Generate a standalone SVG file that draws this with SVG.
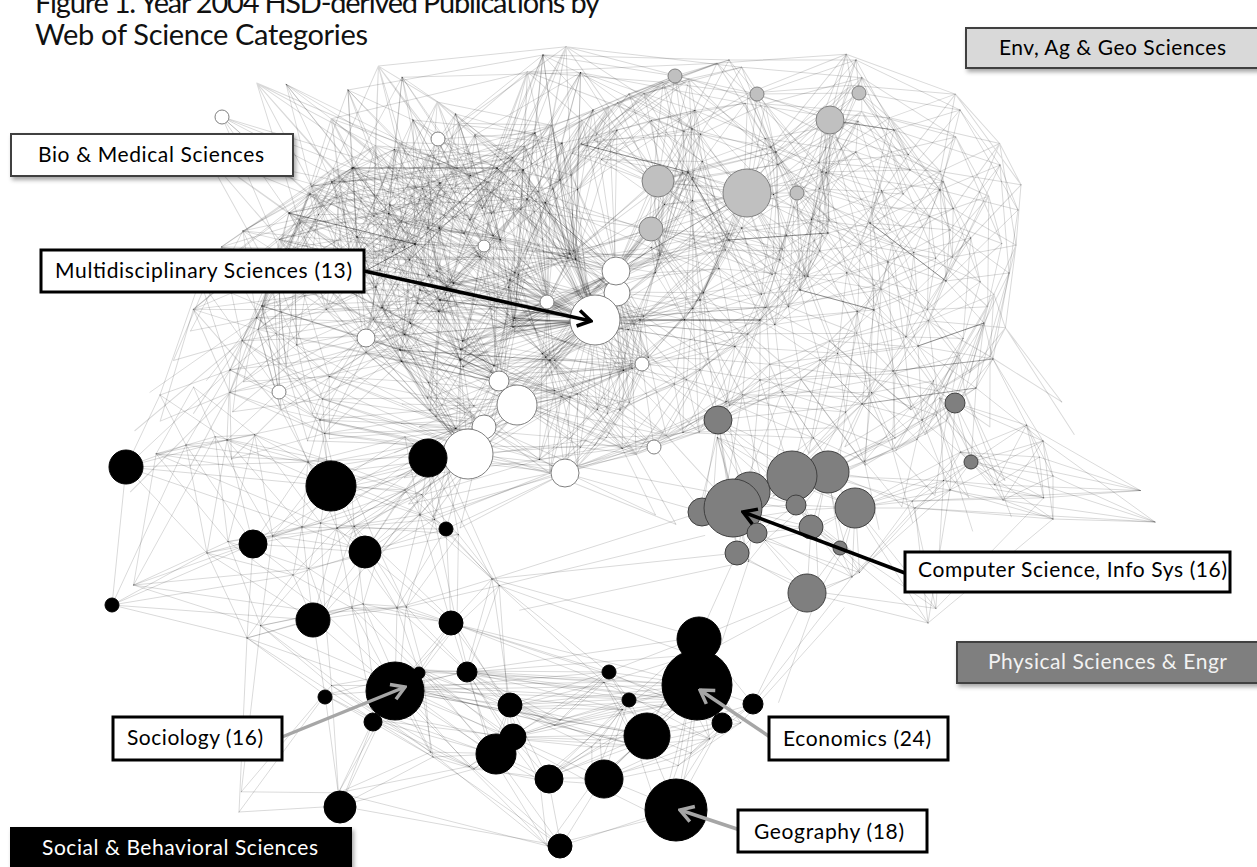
<svg xmlns="http://www.w3.org/2000/svg" width="1257" height="867" viewBox="0 0 1257 867">
<defs>
<style>
.l{fill:none;stroke:#000;stroke-opacity:.15;stroke-width:1;stroke-linecap:round}
.m{fill:none;stroke:#000;stroke-opacity:.35;stroke-width:1}
.w{fill:#fff;stroke:#808080;stroke-width:1}
.g{fill:#c0c0c0;stroke:#808080;stroke-width:1}
.p{fill:#7f7f7f;stroke:#404040;stroke-width:1}
.k{fill:#000;stroke:#000;stroke-width:1}
.t{font-family:Lato,"Open Sans","Liberation Sans",sans-serif;font-size:21px;fill:#000}
.cat{stroke:#404040;stroke-width:2}
.call{fill:#fff;stroke:#000;stroke-width:3}
.ab{fill:none;stroke:#000;stroke-width:3.5}
.ag{fill:none;stroke:#a6a6a6;stroke-width:3.5}
</style>
<filter id="sh" x="-10%" y="-30%" width="125%" height="170%">
<feDropShadow dx="2" dy="3" stdDeviation="2" flood-color="#000" flood-opacity=".35"/>
</filter>
<marker id="hb" viewBox="-16 -10 18 20" refX="0" refY="0" markerWidth="18" markerHeight="20" markerUnits="userSpaceOnUse" orient="auto">
<path d="M-13 -8L0 0L-13 8" fill="none" stroke="#000" stroke-width="3.5"/>
</marker>
<marker id="hg" viewBox="-16 -10 18 20" refX="0" refY="0" markerWidth="18" markerHeight="20" markerUnits="userSpaceOnUse" orient="auto">
<path d="M-13 -8L0 0L-13 8" fill="none" stroke="#a6a6a6" stroke-width="3.5"/>
</marker>
</defs>
<rect width="1257" height="867" fill="#fff"/>

<!-- title -->
<g id="title" font-family="Lato,'Open Sans','Liberation Sans',sans-serif" font-size="29" fill="#111">
<text x="35" y="13" textLength="565">Figure 1. Year 2004 HSD-derived Publications by</text>
<text x="35" y="45" textLength="333">Web of Science Categories</text>
</g>

<!-- network links: base layer plus rotated re-draws to build up the dense web -->
<g id="links">
<g id="lk-top">
<path class="l" d="M222 117L352 168M222 117L310 194M222 117L289 213M222 117L440 183M222 117L357 237M222 117L280 250M222 117L390 205"/>
<path class="l" d="M348 90L413 120M348 90L352 168M348 90L440 183M348 90L310 194M348 90L390 205M348 90L357 237M348 90L415 244M348 90L470 220M348 90L543 55"/>
<path class="l" d="M413 120L438 139M413 120L440 183M413 120L497 168M413 120L390 205M413 120L415 244M413 120L484 246M413 120L470 220M413 120L357 237M413 120L535 133"/>
<path class="l" d="M438 139L543 55M438 139L535 133M438 139L497 168M438 139L527 199M438 139L415 244M438 139L470 220M438 139L484 246M438 139L440 183M438 139L380 270"/>
<path class="l" d="M543 55L535 133M543 55L593 110M543 55L497 168M543 55L527 199M543 55L470 220M543 55L484 246M543 55L560 180M543 55L675 76M543 55L729 60M543 55L692 129M543 55L570 254"/>
<path class="l" d="M535 133L593 110M535 133L440 183M535 133L497 168M535 133L527 199M535 133L415 244M535 133L570 254M535 133L547 302M535 133L470 220M535 133L560 180M535 133L289 213"/>
<path class="l" d="M593 110L497 168M593 110L527 199M593 110L570 254M593 110L560 180M593 110L616 271M593 110L629 94M593 110L581 144M593 110L658 181M593 110L675 76M593 110L510 280"/>
<path class="l" d="M352 168L440 183M352 168L310 194M352 168L289 213M352 168L357 237M352 168L415 244M352 168L484 246M352 168L330 290M352 168L380 270M352 168L280 250M352 168L497 168"/>
<path class="l" d="M440 183L497 168M440 183L289 213M440 183L527 199M440 183L357 237M440 183L415 244M440 183L484 246M440 183L570 254M440 183L330 290M440 183L440 300M440 183L380 270M440 183L420 290"/>
<path class="l" d="M497 168L527 199M497 168L415 244M497 168L484 246M497 168L570 254M497 168L547 302M497 168L440 300M497 168L470 220M497 168L560 180M497 168L510 280M497 168L289 213"/>
<path class="l" d="M310 194L289 213M310 194L390 205M310 194L357 237M310 194L415 244M310 194L262 306M310 194L330 290M310 194L200 280M310 194L280 250M310 194L484 246M310 194L440 300"/>
<path class="l" d="M289 213L357 237M289 213L415 244M289 213L262 306M289 213L366 338M289 213L330 290M289 213L200 280M289 213L280 250M289 213L380 270M289 213L400 350"/>
<path class="l" d="M390 205L527 199M390 205L357 237M390 205L415 244M390 205L484 246M390 205L440 300M390 205L380 270M390 205L420 290M390 205L470 220"/>
<path class="l" d="M527 199L484 246M527 199L513 327M527 199L570 254M527 199L616 271M527 199L595 320M527 199L547 302M527 199L440 300M527 199L470 220M527 199L560 180M527 199L510 280M527 199L651 229"/>
<path class="l" d="M357 237L415 244M357 237L262 306M357 237L366 338M357 237L330 290M357 237L440 300M357 237L400 350M357 237L420 290M357 237L380 270M357 237L280 250M357 237L484 246"/>
<path class="l" d="M415 244L484 246M415 244L513 327M415 244L570 254M415 244L366 338M415 244L330 290M415 244L440 300M415 244L400 350M415 244L460 360M415 244L420 290M415 244L380 270M415 244L510 280"/>
<path class="l" d="M484 246L513 327M484 246L570 254M484 246L616 271M484 246L595 320M484 246L547 302M484 246L440 300M484 246L460 360M484 246L420 290M484 246L470 220M484 246L510 280M484 246L499 381"/>
<path class="l" d="M262 306L366 338M262 306L279 392M262 306L330 290M262 306L400 350M262 306L230 370M262 306L200 280M262 306L320 420M262 306L280 250M262 306L380 270M262 306L440 300M262 306L499 381"/>
<path class="l" d="M513 327L590 294M513 327L616 271M513 327L595 320M513 327L547 302M513 327L642 364M513 327L499 381M513 327L440 300M513 327L460 360M513 327L550 360M513 327L420 290M513 327L510 280M513 327L640 320"/>
<path class="l" d="M590 294L570 254M590 294L616 271M590 294L642 364M590 294L550 360M590 294L510 280M590 294L640 320M590 294L660 255M590 294L651 229M590 294L560 180"/>
<path class="l" d="M570 254L616 271M570 254L617 293M570 254L595 320M570 254L547 302M570 254L440 300M570 254L560 180M570 254L510 280M570 254L660 255M570 254L658 181M570 254L651 229"/>
<path class="l" d="M616 271L595 320M616 271L547 302M616 271L642 364M616 271L560 180M616 271L640 320M616 271L660 255M616 271L658 181M616 271L651 229M616 271L688 172M616 271L729 240M616 271L460 360"/>
<path class="l" d="M617 293L595 320M617 293L642 364M617 293L550 360M617 293L640 320M617 293L700 300M617 293L620 410"/>
<path class="l" d="M595 320L547 302M595 320L642 364M595 320L499 381M595 320L460 360M595 320L550 360M595 320L620 410M595 320L640 320M595 320L440 300M595 320L420 290M595 320L513 327M595 320L700 300M595 320L517 405"/>
<path class="l" d="M595 320L535 133M595 320L497 168M595 320L415 244M595 320L357 237M595 320L366 338M595 320L400 350M595 320L747 193M595 320L760 320M595 320L565 473M595 320L468 454"/>
<path class="l" d="M547 302L642 364M547 302L440 300M547 302L460 360M547 302L550 360M547 302L420 290M547 302L510 280"/>
<path class="l" d="M366 338L279 392M366 338L499 381M366 338L484 427M366 338L330 290M366 338L400 350M366 338L460 360M366 338L230 370M366 338L320 420M366 338L420 290M366 338L380 270M366 338L430 410M366 338L440 300"/>
<path class="l" d="M279 392L400 350M279 392L230 370M279 392L200 280M279 392L320 420M279 392L280 250M279 392L262 306M279 392L227 440M279 392L308 462M279 392L468 454"/>
<path class="l" d="M642 364L499 381M642 364L517 405M642 364L654 447M642 364L550 360M642 364L620 410M642 364L570 397M642 364L595 445M642 364L640 320M642 364L700 370M642 364L700 300M642 364L760 320M642 364L718 420"/>
<path class="l" d="M499 381L517 405M499 381L484 427M499 381L440 300M499 381L400 350M499 381L460 360M499 381L550 360M499 381L570 397M499 381L420 290M499 381L430 410M499 381L510 280"/>
<path class="l" d="M517 405L484 427M517 405L468 454M517 405L400 350M517 405L550 360M517 405L570 397M517 405L595 445M517 405L430 410M517 405L654 447"/>
<path class="l" d="M484 427L468 454M484 427L565 473M484 427L400 350M484 427L570 397M484 427L320 420M484 427L430 410M484 427L428 458M484 427L405 437"/>
<path class="l" d="M468 454L565 473M468 454L570 397M468 454L595 445M468 454L320 420M468 454L430 410M468 454L331 486M468 454L428 458M468 454L308 462M468 454L405 490M468 454L405 437"/>
<path class="l" d="M468 454L366 338M468 454L400 350M468 454L460 360M468 454L499 381M468 454L446 529M468 454L365 552M468 454L420 515M468 454L337 528"/>
<path class="l" d="M565 473L654 447M565 473L570 397M565 473L595 445M565 473L620 410M565 473L718 420M565 473L702 512M565 473L428 458M565 473L446 529M565 473L550 360M565 473L420 515"/>
<path class="l" d="M654 447L620 410M654 447L570 397M654 447L595 445M654 447L700 370M654 447L718 420M654 447L760 380M654 447L702 512M654 447L550 360"/>
<path class="l" d="M330 290L440 300M330 290L400 350M330 290L230 370M330 290L200 280M330 290L420 290M330 290L380 270M330 290L280 250"/>
<path class="l" d="M440 300L400 350M440 300L460 360M440 300L420 290M440 300L380 270M440 300L510 280M440 300L430 410"/>
<path class="l" d="M400 350L460 360M400 350L230 370M400 350L320 420M400 350L420 290M400 350L380 270M400 350L430 410"/>
<path class="l" d="M460 360L550 360M460 360L570 397M460 360L420 290M460 360L510 280M460 360L430 410"/>
<path class="l" d="M550 360L620 410M550 360L570 397M550 360L510 280M550 360L640 320M620 410L570 397M620 410L595 445M620 410L640 320M620 410L700 370"/>
<path class="l" d="M230 370L200 280M230 370L320 420M230 370L280 250M230 370L186 445M230 370L227 440M230 370L160 395M230 370L126 467M200 280L280 250M200 280L380 270M200 280L160 395"/>
<path class="l" d="M320 420L430 410M320 420L227 440M320 420L308 462M320 420L331 486M320 420L405 437"/>
<path class="l" d="M640 320L660 255M640 320L700 370M640 320L700 300M640 320L729 240M640 320L760 320M660 255L658 181M660 255L651 229M660 255L688 172M660 255L729 240M660 255L700 300M660 255L692 129"/>
<path class="l" d="M700 370L760 320M700 370L700 300M700 370L760 380M700 370L718 420"/>
<path class="l" d="M675 76L757 94M675 76L729 60M675 76L629 94M675 76L581 144M675 76L692 129M675 76L688 172M675 76L658 181M675 76L776 152M675 76L560 180"/>
<path class="l" d="M757 94L859 93M757 94L830 120M757 94L729 60M757 94L856 60M757 94L692 129M757 94L776 152M757 94L747 193M757 94L822 172"/>
<path class="l" d="M859 93L830 120M859 93L856 60M859 93L894 130M859 93L776 152M859 93L822 172M859 93L960 110M859 93L910 170"/>
<path class="l" d="M830 120L747 193M830 120L797 193M830 120L856 60M830 120L776 152M830 120L822 172M830 120L894 130M830 120L870 223M830 120L828 233M830 120L910 170"/>
<path class="l" d="M658 181L747 193M658 181L651 229M658 181L629 94M658 181L581 144M658 181L692 129M658 181L688 172M658 181L729 240M658 181L776 152"/>
<path class="l" d="M747 193L797 193M747 193L692 129M747 193L776 152M747 193L822 172M747 193L688 172M747 193L729 240M747 193L828 233M747 193L800 290M747 193L780 260M747 193L700 300M747 193L651 229"/>
<path class="l" d="M797 193L776 152M797 193L822 172M797 193L870 223M797 193L828 233M797 193L800 290M797 193L780 260M797 193L888 262"/>
<path class="l" d="M651 229L688 172M651 229L729 240M651 229L700 300M651 229L780 260M729 60L856 60M729 60L629 94M729 60L692 129M729 60L776 152"/>
<path class="l" d="M856 60L894 130M856 60L960 110M856 60L822 172M856 60L776 152M629 94L581 144M629 94L692 129M629 94L688 172M629 94L560 180M581 144L692 129M581 144L688 172M581 144L560 180"/>
<path class="l" d="M692 129L776 152M692 129L688 172M692 129L729 240M776 152L822 172M776 152L688 172M776 152L828 233M776 152L780 260"/>
<path class="l" d="M822 172L894 130M822 172L870 223M822 172L828 233M822 172L940 190M822 172L910 170M822 172L800 290M688 172L729 240M688 172L700 300M688 172L780 260"/>
<path class="l" d="M894 130L960 110M894 130L1000 165M894 130L940 190M894 130L910 170M894 130L870 223M894 130L950 230"/>
<path class="l" d="M870 223L828 233M870 223L940 190M870 223L888 262M870 223L946 281M870 223L874 310M870 223L950 230M870 223L910 170M870 223L800 290"/>
<path class="l" d="M729 240L828 233M729 240L800 290M729 240L760 320M729 240L700 300M729 240L780 260M828 233L888 262M828 233L874 310M828 233L800 290M828 233L780 260M828 233L760 320"/>
<path class="l" d="M960 110L1000 165M960 110L940 190M960 110L910 170M960 110L1018 210M1000 165L940 190M1000 165L950 230M1000 165L1018 210M1000 165L1009 273M1000 165L946 281"/>
<path class="l" d="M940 190L888 262M940 190L946 281M940 190L950 230M940 190L910 170M940 190L1018 210"/>
<path class="l" d="M888 262L946 281M888 262L874 310M888 262L918 346M888 262L800 290M888 262L950 230M888 262L893 371"/>
<path class="l" d="M946 281L1009 273M946 281L874 310M946 281L984 323M946 281L918 346M946 281L950 230M946 281L1018 210"/>
<path class="l" d="M1009 273L984 323M1009 273L993 359M1009 273L950 230M1009 273L1018 210M1009 273L976 388"/>
<path class="l" d="M874 310L918 346M874 310L893 371M874 310L862 404M874 310L800 290M874 310L760 320M874 310L820 360"/>
<path class="l" d="M984 323L993 359M984 323L918 346M984 323L976 388M984 323L922 420M984 323L955 403M993 359L976 388M993 359L918 346M993 359L955 403M993 359L1043 441M993 359L1053 476"/>
<path class="l" d="M918 346L893 371M918 346L976 388M918 346L922 420M918 346L820 360M918 346L955 403M893 371L862 404M893 371L922 420M893 371L820 360M893 371L760 380M893 371L895 438"/>
<path class="l" d="M862 404L922 420M862 404L820 360M862 404L760 380M862 404L718 420M862 404L895 438M862 404L792 476M862 404L828 472"/>
<path class="l" d="M976 388L922 420M976 388L955 403M976 388L971 462M976 388L1043 441M922 420L955 403M922 420L971 462M922 420L895 438M922 420L950 490M922 420L828 472"/>
<path class="l" d="M800 290L760 320M800 290L820 360M800 290L780 260M800 290L700 300M760 320L700 300M760 320L820 360M760 320L760 380M760 320L780 260M760 320L718 420"/>
<path class="l" d="M700 300L760 380M700 300L780 260M700 300L718 420M820 360L760 380M820 360L718 420M820 360L792 476M820 360L895 438M760 380L718 420M760 380L792 476M760 380L750 492"/>
</g>
<g id="lk-phys">
<path class="l" d="M718 420L792 476M718 420L750 492M718 420L733 508M718 420L702 512M718 420L828 472M718 420L796 505M718 420L737 553"/>
<path class="l" d="M955 403L971 462M955 403L1043 441M955 403L950 490M955 403L1003 500M955 403L895 438"/>
<path class="l" d="M971 462L1043 441M971 462L1053 476M971 462L950 490M971 462L915 508M971 462L1003 500M971 462L1053 519M971 462L1155 522M971 462L855 508"/>
<path class="l" d="M792 476L828 472M792 476L750 492M792 476L733 508M792 476L796 505M792 476L855 508M792 476L811 527M792 476L895 438"/>
<path class="l" d="M828 472L796 505M828 472L855 508M828 472L811 527M828 472L840 548M828 472L950 490M828 472L915 508M828 472L895 438"/>
<path class="l" d="M750 492L733 508M750 492L702 512M750 492L796 505M750 492L757 533M750 492L737 553M733 508L702 512M733 508L757 533M733 508L737 553M733 508L796 505M733 508L811 527"/>
<path class="l" d="M796 505L757 533M796 505L811 527M796 505L840 548M796 505L855 508M855 508L840 548M855 508L950 490M855 508L915 508M855 508L852 577M855 508L811 527M855 508L928 623"/>
<path class="l" d="M757 533L811 527M757 533L737 553M757 533L807 593M757 533L852 577M811 527L840 548M811 527L807 593M811 527L852 577M737 553L807 593M737 553L699 637M737 553L492 579"/>
<path class="l" d="M840 548L807 593M840 548L852 577M840 548L928 623M807 593L852 577M807 593L928 623M807 593L699 637M807 593L753 704"/>
<path class="l" d="M1043 441L1053 476M1043 441L1053 519M1043 441L1155 522M1043 441L1003 500M1043 441L950 490M1053 476L1053 519M1053 476L1155 522M1053 476L1003 500"/>
<path class="l" d="M950 490L915 508M950 490L1053 519M950 490L1003 500M950 490L928 623M950 490L852 577M915 508L1053 519M915 508L1155 522M915 508L928 623M915 508L852 577"/>
<path class="l" d="M1053 519L1155 522M1053 519L928 623M1003 500L1053 519M1003 500L1155 522"/>
</g>
<g id="lk-social">
<path class="l" d="M126 467L186 445M126 467L227 440M126 467L207 553M126 467L112 605M126 467L160 395M126 467L308 462M126 467L331 486M126 467L302 527"/>
<path class="l" d="M331 486L428 458M331 486L308 462M331 486L302 527M331 486L337 528M331 486L420 515M331 486L405 490M331 486L405 437M331 486L227 440M331 486L365 552"/>
<path class="l" d="M428 458L446 529M428 458L420 515M428 458L405 490M428 458L405 437M428 458L492 579M428 458L365 552M428 458L337 528"/>
<path class="l" d="M446 529L365 552M446 529L337 528M446 529L420 515M446 529L405 490M446 529L492 579M446 529L451 623M446 529L397 608"/>
<path class="l" d="M253 544L365 552M253 544L186 445M253 544L227 440M253 544L207 553M253 544L293 575M253 544L302 527M253 544L337 528M253 544L247 638M253 544L308 462M253 544L331 486"/>
<path class="l" d="M365 552L293 575M365 552L302 527M365 552L337 528M365 552L352 608M365 552L397 608M365 552L420 515M365 552L405 490M365 552L313 620M365 552L451 623"/>
<path class="l" d="M112 605L207 553M112 605L293 575M112 605L247 638M112 605L253 544M112 605L186 445M112 605L313 620"/>
<path class="l" d="M313 620L293 575M313 620L247 638M313 620L302 527M313 620L337 528M313 620L352 608M313 620L397 608M313 620L395 690M313 620L325 695M313 620L207 553"/>
<path class="l" d="M451 623L352 608M451 623L397 608M451 623L492 579M451 623L420 515M451 623L419 672M451 623L466 671M451 623L395 690M451 623L608 672M451 623L510 705"/>
<path class="l" d="M186 445L227 440M186 445L207 553M186 445L160 395M186 445L308 462M227 440L207 553M227 440L308 462M227 440L302 527M227 440L160 395"/>
<path class="l" d="M207 553L293 575M207 553L247 638M207 553L302 527M293 575L247 638M293 575L302 527M293 575L337 528M293 575L352 608"/>
<path class="l" d="M247 638L352 608M247 638L325 695M247 638L239 812M247 638L374 720M247 638L395 690"/>
<path class="l" d="M308 462L302 527M308 462L337 528M308 462L405 490M308 462L405 437M302 527L337 528M302 527L405 490M337 528L352 608M337 528L397 608M337 528L420 515M337 528L405 490"/>
<path class="l" d="M352 608L397 608M352 608L395 690M352 608L419 672M352 608L374 720M397 608L420 515M397 608L492 579M397 608L395 690M397 608L419 672M397 608L466 671"/>
<path class="l" d="M420 515L405 490M420 515L492 579M420 515L405 437M492 579L466 671M492 579L608 672M492 579L510 705M492 579L702 512M492 579L699 637"/>
<path class="l" d="M699 637L698 685M699 637L608 672M699 637L629 699M699 637L646 735M699 637L753 704M699 637L722 723M699 637L466 671"/>
<path class="l" d="M698 685L608 672M698 685L629 699M698 685L753 704M698 685L722 723M698 685L646 735M698 685L691 753M698 685L676 808M698 685L466 671M698 685L510 705M698 685L560 720"/>
<path class="l" d="M698 685L512 737M698 685L395 690M698 685L419 672M698 685L451 623M698 685L548 778M698 685L603 778"/>
<path class="l" d="M395 690L419 672M395 690L466 671M395 690L325 695M395 690L374 720M395 690L510 705M395 690L512 737M395 690L495 754M395 690L433 757M395 690L474 769M395 690L340 806M395 690L560 720M395 690L608 672M395 690L646 735M395 690L629 699"/>
<path class="l" d="M419 672L466 671M419 672L325 695M419 672L374 720M419 672L510 705M419 672L512 737M419 672L495 754M419 672L433 757"/>
<path class="l" d="M466 671L510 705M466 671L608 672M466 671L512 737M466 671L495 754M466 671L560 720M466 671L629 699"/>
<path class="l" d="M325 695L374 720M325 695L340 806M325 695L239 812M325 695L433 757M374 720L495 754M374 720L340 806M374 720L433 757M374 720L474 769M374 720L512 737"/>
<path class="l" d="M510 705L608 672M510 705L629 699M510 705L646 735M510 705L512 737M510 705L495 754M510 705L548 778M510 705L560 720M510 705L600 740"/>
<path class="l" d="M608 672L629 699M608 672L646 735M608 672L560 720M608 672L512 737M608 672L722 723M629 699L722 723M629 699L646 735M629 699L600 740M629 699L560 720M629 699L548 778M629 699L603 778"/>
<path class="l" d="M753 704L722 723M753 704L691 753M753 704L646 735M753 704L852 577M722 723L646 735M722 723L691 753M722 723L676 808M722 723L603 778"/>
<path class="l" d="M646 735L548 778M646 735L603 778M646 735L676 808M646 735L691 753M646 735L600 740M646 735L560 720M646 735L512 737"/>
<path class="l" d="M512 737L495 754M512 737L548 778M512 737L603 778M512 737L600 740M512 737L560 720M512 737L474 769"/>
<path class="l" d="M495 754L548 778M495 754L433 757M495 754L474 769M495 754L561 846M548 778L603 778M548 778L561 846M548 778L474 769M548 778L600 740"/>
<path class="l" d="M603 778L676 808M603 778L561 846M603 778L600 740M603 778L691 753M676 808L561 846M676 808L691 753"/>
<path class="l" d="M340 806L239 812M340 806L433 757M340 806L561 846M340 806L474 769M433 757L474 769M433 757L561 846M474 769L561 846"/>
</g>
<use href="#lk-top" transform="translate(600 280) rotate(5) scale(.95 1.02) translate(-600 -280)"/>
<use href="#lk-top" transform="translate(620 270) rotate(-4) scale(1.02 .95) translate(-620 -270)"/>
<use href="#lk-top" transform="translate(560 300) rotate(9) scale(.9 .93) translate(-560 -300)"/>
<use href="#lk-phys" transform="translate(850 500) rotate(-6) scale(.95) translate(-850 -500)"/>
<use href="#lk-social" transform="translate(470 700) rotate(4) scale(.96) translate(-470 -700)"/>
<path class="m" d="M289 213L415 244M497 168L616 271M440 300L595 320M616 271L747 193M729 240L828 233M870 223L946 281M984 323L918 346M862 404L976 388M874 310L800 290M581 144L688 172M352 168L497 168M400 350L550 360M893 371L993 359M728 240L688 172M829 120L894 130M415 244L330 290M640 320L760 320"/>
</g>

<!-- category nodes -->
<g id="nodes">
<g id="n-bio-1"><circle class="w" cx="222" cy="117" r="7"/></g>
<g id="n-bio-2"><circle class="w" cx="438" cy="139" r="7"/></g>
<g id="n-bio-3"><circle class="w" cx="484" cy="246" r="6"/></g>
<g id="n-bio-4"><circle class="w" cx="617" cy="293" r="13"/></g>
<g id="n-bio-5"><circle class="w" cx="616" cy="271" r="14"/></g>
<g id="n-bio-6"><circle class="w" cx="547" cy="302" r="7"/></g>
<g id="n-multidisciplinary"><circle class="w" cx="595" cy="320" r="25"/></g>
<g id="n-bio-7"><circle class="w" cx="366" cy="338" r="9"/></g>
<g id="n-bio-8"><circle class="w" cx="279" cy="392" r="7"/></g>
<g id="n-bio-9"><circle class="w" cx="642" cy="364" r="7"/></g>
<g id="n-bio-10"><circle class="w" cx="499" cy="381" r="10"/></g>
<g id="n-bio-11"><circle class="w" cx="517" cy="405" r="20"/></g>
<g id="n-bio-12"><circle class="w" cx="484" cy="427" r="12"/></g>
<g id="n-bio-13"><circle class="w" cx="468" cy="454" r="25"/></g>
<g id="n-bio-14"><circle class="w" cx="565" cy="473" r="14"/></g>
<g id="n-bio-15"><circle class="w" cx="654" cy="447" r="7"/></g>

<g id="n-env-1"><circle class="g" cx="675" cy="76" r="7"/></g>
<g id="n-env-2"><circle class="g" cx="757" cy="94" r="7"/></g>
<g id="n-env-3"><circle class="g" cx="859" cy="93" r="7"/></g>
<g id="n-env-4"><circle class="g" cx="830" cy="120" r="14"/></g>
<g id="n-env-5"><circle class="g" cx="658" cy="181" r="16"/></g>
<g id="n-env-6"><circle class="g" cx="747" cy="193" r="24"/></g>
<g id="n-env-7"><circle class="g" cx="797" cy="193" r="7"/></g>
<g id="n-env-8"><circle class="g" cx="651" cy="229" r="12"/></g>

<g id="n-phys-1"><circle class="p" cx="718" cy="420" r="14"/></g>
<g id="n-phys-2"><circle class="p" cx="955" cy="403" r="10"/></g>
<g id="n-phys-3"><circle class="p" cx="971" cy="462" r="7"/></g>
<g id="n-phys-4"><circle class="p" cx="828" cy="472" r="21"/></g>
<g id="n-phys-5"><circle class="p" cx="792" cy="476" r="25"/></g>
<g id="n-phys-6"><circle class="p" cx="702" cy="512" r="14"/></g>
<g id="n-phys-7"><circle class="p" cx="750" cy="492" r="20"/></g>
<g id="n-computer-science"><circle class="p" cx="733" cy="508" r="29"/></g>
<g id="n-phys-8"><circle class="p" cx="796" cy="505" r="10"/></g>
<g id="n-phys-9"><circle class="p" cx="855" cy="508" r="20"/></g>
<g id="n-phys-10"><circle class="p" cx="757" cy="533" r="10"/></g>
<g id="n-phys-11"><circle class="p" cx="811" cy="527" r="12"/></g>
<g id="n-phys-12"><circle class="p" cx="737" cy="553" r="12"/></g>
<g id="n-phys-13"><circle class="p" cx="840" cy="548" r="7"/></g>
<g id="n-phys-14"><circle class="p" cx="807" cy="593" r="19"/></g>

<g id="n-soc-1"><circle class="k" cx="126" cy="467" r="17"/></g>
<g id="n-soc-2"><circle class="k" cx="331" cy="486" r="25"/></g>
<g id="n-soc-3"><circle class="k" cx="428" cy="458" r="19"/></g>
<g id="n-soc-4"><circle class="k" cx="446" cy="529" r="7"/></g>
<g id="n-soc-5"><circle class="k" cx="253" cy="544" r="14"/></g>
<g id="n-soc-6"><circle class="k" cx="365" cy="552" r="16"/></g>
<g id="n-soc-7"><circle class="k" cx="112" cy="605" r="7"/></g>
<g id="n-soc-8"><circle class="k" cx="313" cy="620" r="17"/></g>
<g id="n-soc-9"><circle class="k" cx="451" cy="623" r="12"/></g>
<g id="n-soc-10"><circle class="k" cx="699" cy="639" r="22"/></g>
<g id="n-economics"><circle class="k" cx="697" cy="685" r="35"/></g>
<g id="n-sociology"><circle class="k" cx="395" cy="691" r="29"/></g>
<g id="n-soc-11"><circle class="k" cx="419" cy="673" r="6"/></g>
<g id="n-soc-12"><circle class="k" cx="467" cy="672" r="10"/></g>
<g id="n-soc-13"><circle class="k" cx="325" cy="697" r="7"/></g>
<g id="n-soc-14"><circle class="k" cx="373" cy="722" r="9"/></g>
<g id="n-soc-15"><circle class="k" cx="510" cy="705" r="12"/></g>
<g id="n-soc-16"><circle class="k" cx="609" cy="672" r="7"/></g>
<g id="n-soc-17"><circle class="k" cx="629" cy="700" r="7"/></g>
<g id="n-soc-18"><circle class="k" cx="753" cy="704" r="10"/></g>
<g id="n-soc-19"><circle class="k" cx="722" cy="723" r="10"/></g>
<g id="n-soc-20"><circle class="k" cx="647" cy="736" r="23"/></g>
<g id="n-soc-21"><circle class="k" cx="513" cy="737" r="13"/></g>
<g id="n-soc-22"><circle class="k" cx="496" cy="754" r="20"/></g>
<g id="n-soc-23"><circle class="k" cx="549" cy="779" r="14"/></g>
<g id="n-soc-24"><circle class="k" cx="604" cy="779" r="19"/></g>
<g id="n-geography"><circle class="k" cx="676" cy="810" r="31"/></g>
<g id="n-soc-25"><circle class="k" cx="340" cy="807" r="16"/></g>
<g id="n-soc-26"><circle class="k" cx="560" cy="846" r="12"/></g>
</g>

<!-- category legend boxes -->
<g id="box-bio"><rect class="cat" x="11" y="134" width="282" height="42" fill="#fff" filter="url(#sh)"/><text class="t" x="38" y="162" textLength="226">Bio &amp; Medical Sciences</text></g>
<g id="box-env"><rect class="cat" x="966" y="28" width="296" height="40" fill="#d9d9d9" filter="url(#sh)"/><text class="t" x="999" y="55" textLength="227">Env, Ag &amp; Geo Sciences</text></g>
<g id="box-phys"><rect class="cat" x="957" y="642" width="305" height="41" fill="#7f7f7f" filter="url(#sh)"/><text class="t" x="988" y="669" textLength="239" style="fill:#f2f2f2">Physical Sciences &amp; Engr</text></g>
<g id="box-social"><rect x="10" y="827" width="342" height="45" fill="#000" filter="url(#sh)"/><text class="t" x="42" y="855" textLength="276" style="fill:#fff">Social &amp; Behavioral Sciences</text></g>

<!-- callouts -->
<g id="callouts">
<line class="ab" x1="364" y1="271" x2="591" y2="321" marker-end="url(#hb)"/>
<line class="ab" x1="905" y1="573" x2="743" y2="512" marker-end="url(#hb)"/>
<line class="ag" x1="282" y1="737" x2="405" y2="687" marker-end="url(#hg)"/>
<line class="ag" x1="770" y1="737" x2="700" y2="690" marker-end="url(#hg)"/>
<line class="ag" x1="740" y1="830" x2="680" y2="810" marker-end="url(#hg)"/>
</g>
<g id="label-multidisciplinary"><rect class="call" x="41" y="250" width="323" height="42"/><text class="t" x="55" y="278" textLength="297">Multidisciplinary Sciences (13)</text></g>
<g id="label-computer-science"><rect class="call" x="905" y="552" width="325" height="40"/><text class="t" x="918" y="577" textLength="309">Computer Science, Info Sys (16)</text></g>
<g id="label-sociology"><rect class="call" x="113" y="717" width="169" height="43"/><text class="t" x="127" y="745" textLength="136">Sociology (16)</text></g>
<g id="label-economics"><rect class="call" x="769" y="717" width="179" height="43"/><text class="t" x="783" y="746" textLength="148">Economics (24)</text></g>
<g id="label-geography"><rect class="call" x="738" y="810" width="189" height="42"/><text class="t" x="754" y="839" textLength="150">Geography (18)</text></g>
</svg>
